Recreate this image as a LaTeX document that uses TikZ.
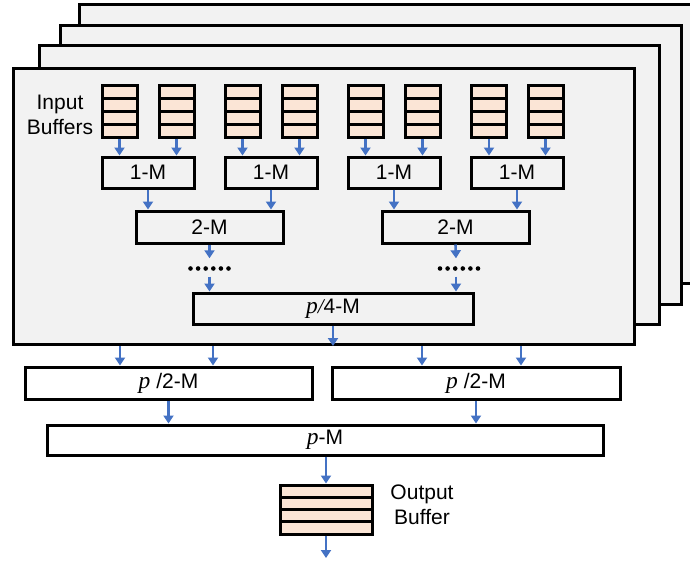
\documentclass[tikz,border=0pt]{standalone}
\usepackage{fontspec}
\setmainfont{Liberation Sans}
\newfontfamily\pfont{Liberation Serif}
\newcommand\pv{{\pfont\itshape\fontsize{23.5}{24}\selectfont p}}
\usetikzlibrary{arrows.meta}
\definecolor{panelgray}{HTML}{F2F2F2}
\definecolor{peach}{HTML}{FBE5D6}
\definecolor{arrblue}{HTML}{4472C4}
\newcommand\ibuf[5]{% name, cx, ytop, width, rowheight
  \node[bufbox, minimum width=#4pt, minimum height=4*#5 pt] (#1) at (#2,#3+2*#5) {};
  \foreach \k in {1,2,3}{\draw[line width=3pt] (#2-#4/2,#3+#5*\k) -- (#2+#4/2,#3+#5*\k);}
}
\begin{document}
\begin{tikzpicture}[x=1pt,y=-1pt,
  panelbox/.style={draw=black, line width=3pt, fill=panelgray, inner sep=0pt, anchor=north west},
  mbox/.style={draw=black, line width=3pt, inner sep=0pt, font=\fontsize{21}{24}\selectfont},
  outbox/.style={mbox, fill=white},
  bufbox/.style={draw=black, line width=3pt, fill=peach, inner sep=0pt},
  lbl/.style={font=\fontsize{21}{24.5}\selectfont, align=center, inner sep=0pt},
  arr/.style={draw=arrblue, line width=2.6pt, -{Triangle[width=10pt,length=8pt]}},
  dotsnode/.style={minimum width=42pt, minimum height=18pt, inner sep=0pt},
  ]
\useasboundingbox (0,0) rectangle (690,565);
% stacked panels
\node[panelbox, minimum width=624pt, minimum height=279pt] (p4) at (78,3) {};
\node[panelbox, minimum width=621pt, minimum height=279pt] (p3) at (59,24) {};
\node[panelbox, minimum width=620pt, minimum height=279pt] (p2) at (38,44) {};
\node[panelbox, minimum width=621pt, minimum height=276pt] (panel) at (12,67) {};

% input buffers
\node[lbl] (inlbl) at (60,115) {Input\\Buffers};
\ibuf{b1}{119.5}{85}{35}{13}
\ibuf{b2}{176.5}{85}{35}{13}
\ibuf{b3}{242.5}{85}{35}{13}
\ibuf{b4}{299.5}{85}{35}{13}
\ibuf{b5}{365.5}{85}{35}{13}
\ibuf{b6}{422.5}{85}{35}{13}
\ibuf{b7}{489}{85}{35}{13}
\ibuf{b8}{545.5}{85}{35}{13}

% 1-M
\node[mbox, minimum width=92pt, minimum height=31pt] (m1) at (148,172.5) {1-M};
\node[mbox, minimum width=92pt, minimum height=31pt] (m2) at (271,172.5) {1-M};
\node[mbox, minimum width=92pt, minimum height=31pt] (m3) at (394,172.5) {1-M};
\node[mbox, minimum width=92pt, minimum height=31pt] (m4) at (517,172.5) {1-M};
\foreach \b/\m in {b1/m1,b2/m1,b3/m2,b4/m2,b5/m3,b6/m3,b7/m4,b8/m4}
  \draw[arr] (\b.south) -- (\b.south |- \m.north);

% 2-M
\node[mbox, minimum width=147pt, minimum height=32pt] (n1) at (209.5,227) {2-M};
\node[mbox, minimum width=147pt, minimum height=32pt] (n2) at (455.5,227) {2-M};
\foreach \m/\n in {m1/n1,m2/n1,m3/n2,m4/n2}
  \draw[arr] (\m.south) -- (\m.south |- \n.north);

% dots
\node[dotsnode] (d1) at (209.5,267.5) {};
\node[dotsnode] (d2) at (456,267.5) {};
\foreach \i in {0,...,5}{
  \fill (190.5+7.6*\i,268.5) circle (2.3pt);
  \fill (440+7.6*\i,268.5) circle (2.3pt);
}

% p/4-M
\node[mbox, minimum width=280pt, minimum height=31pt] (q) at (333,308.5) {\pv{\pfont\itshape/}4-M};
\draw[arr] (n1.south) -- (d1.north);
\draw[arr] (n2.south) -- (d2.north);
\draw[arr] (d1.south) -- (d1.south |- q.north);
\draw[arr] (d2.south) -- (d2.south |- q.north);
\coordinate (qend) at (q.south |- panel.south);
\draw[arr] (q.south) -- (qend);

% p/2-M
\node[outbox, minimum width=287pt, minimum height=32pt] (h1) at (168.5,383) {\pv\ /2-M};
\node[outbox, minimum width=288pt, minimum height=32pt] (h2) at (476,383) {\pv\ /2-M};
\coordinate (s1) at (120,343);
\coordinate (s2) at (213,343);
\coordinate (s3) at (422,343);
\coordinate (s4) at (521,343);
\draw[arr] (s1 |- panel.south) -- (s1 |- h1.north);
\draw[arr] (s2 |- panel.south) -- (s2 |- h1.north);
\draw[arr] (s3 |- panel.south) -- (s3 |- h2.north);
\draw[arr] (s4 |- panel.south) -- (s4 |- h2.north);

% p-M
\node[outbox, minimum width=556pt, minimum height=30pt] (pm) at (325,440) {\pv-M};
\draw[arr] (h1.south) -- (h1.south |- pm.north);
\draw[arr] (h2.south) -- (h2.south |- pm.north);

% output buffer
\ibuf{ob}{326}{485}{92}{12.25}
\node[lbl] (outlbl) at (422,505) {Output\\Buffer};
\draw[arr] (pm.south -| ob.north) -- (ob.north);
\coordinate (oend) at (326,558);
\draw[arr] (ob.south) -- (oend);
\end{tikzpicture}
\end{document}
